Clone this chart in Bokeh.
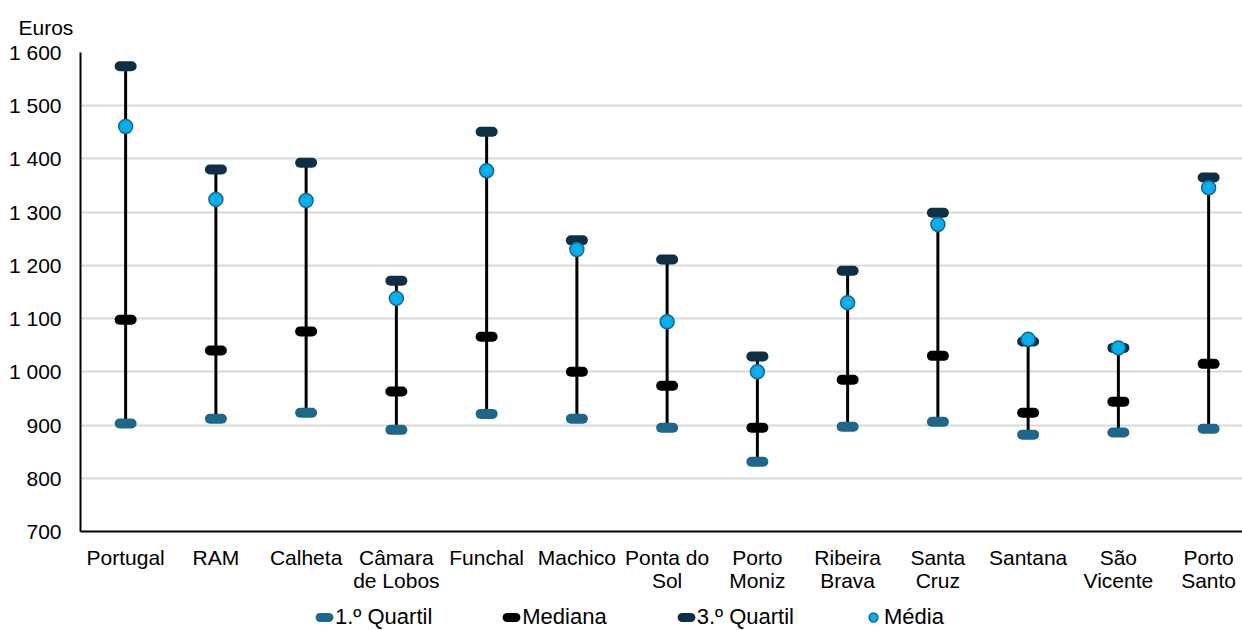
from bokeh.plotting import figure
from bokeh.layouts import column
from bokeh.models import (Range1d, FixedTicker, Legend, LegendItem, Title,
                          ColumnDataSource)
from bokeh.embed import file_html
from bokeh.resources import INLINE

categories = ["Portugal", "RAM", "Calheta", "Câmara\nde Lobos", "Funchal", "Machico",
              "Ponta do\nSol", "Porto\nMoniz", "Ribeira\nBrava", "Santa\nCruz",
              "Santana", "São\nVicente", "Porto\nSanto"]
q1 = [903, 912, 923, 891, 921, 912, 895, 831, 897, 906, 882, 886, 893]
median = [1098, 1040, 1076, 963, 1066, 1000, 974, 895, 985, 1030, 923, 944, 1015]
q3 = [1574, 1380, 1393, 1171, 1451, 1247, 1211, 1029, 1190, 1299, 1057, 1045, 1365]
mean = [1461, 1324, 1322, 1138, 1378, 1230, 1094, 1000, 1130, 1277, 1061, 1045, 1346]
y_ticks = [700, 800, 900, 1000, 1100, 1200, 1300, 1400, 1500, 1600]
y_tick_labels = ["700", "800", "900", "1 000", "1 100", "1 200", "1 300", "1 400", "1 500", "1 600"]
series_names = ["1.º Quartil", "Mediana", "3.º Quartil", "Média"]

FONT = "Liberation Sans"
C_Q1 = "#1D678A"
C_MED = "#000000"
C_Q3 = "#0D3047"
C_MEAN = "#00B0F0"
C_MEAN_LINE = "#1D678A"

W = 1242
H_MAIN, H_LEG = 600, 30
TOP, BOTTOM, LEFT, RIGHT = 52, 69, 80, 0
BAND = 90.25  # px per category, as in the reference
x_end = (W - LEFT - RIGHT) / BAND   # the reference's frame is cropped at the right

xs = [i + 0.5 for i in range(len(categories))]
lo = [min(a, b, c, d) for a, b, c, d in zip(q1, median, q3, mean)]
hi = [max(a, b, c, d) for a, b, c, d in zip(q1, median, q3, mean)]

src = ColumnDataSource(dict(x=xs, q1=q1, median=median, q3=q3, mean=mean, lo=lo, hi=hi))

p = figure(width=W, height=H_MAIN, output_backend="svg", toolbar_location=None,
           x_range=Range1d(0, x_end), y_range=Range1d(700, 1600),
           min_border_left=LEFT, min_border_right=RIGHT, min_border_top=TOP,
           min_border_bottom=BOTTOM)
p.outline_line_color = None
p.background_fill_color = "white"

p.segment(x0="x", x1="x", y0="lo", y1="hi", source=src, line_color="black", line_width=3)
p.scatter("x", "q1", source=src, marker="dash", size=12, line_width=10,
          line_cap="round", line_color=C_Q1)
p.scatter("x", "median", source=src, marker="dash", size=12, line_width=10,
          line_cap="round", line_color=C_MED)
p.scatter("x", "q3", source=src, marker="dash", size=12, line_width=10,
          line_cap="round", line_color=C_Q3)
p.scatter("x", "mean", source=src, marker="circle", size=14, line_width=1.5,
          fill_color=C_MEAN, line_color=C_MEAN_LINE)

# axes
p.xaxis.ticker = FixedTicker(ticks=xs)
p.xaxis.major_label_overrides = {x: c for x, c in zip(xs, categories)}
p.yaxis.ticker = FixedTicker(ticks=y_ticks)
p.yaxis.major_label_overrides = {t: l for t, l in zip(y_ticks, y_tick_labels)}
for ax in (p.xaxis, p.yaxis):
    ax.axis_line_color = "black"
    ax.axis_line_width = 2
    ax.major_tick_line_color = None
    ax.minor_tick_line_color = None
    ax.major_label_text_font = FONT
    ax.major_label_text_font_size = "21px"
    ax.major_label_text_color = "black"
p.xaxis.major_label_text_line_height = 1.0
p.yaxis.major_label_standoff = 13
p.xaxis.major_label_standoff = 8
p.xgrid.grid_line_color = None
p.ygrid.grid_line_color = "#D9D9D9"
p.ygrid.grid_line_width = 2

p.title = Title(text="Euros", align="left", offset=-62, text_font=FONT,
                text_font_size="21px", text_font_style="normal", text_color="black",
                standoff=27)

# legend in its own strip below the chart (frames of the column are aligned)
lg = figure(width=W, height=H_LEG, output_backend="svg", toolbar_location=None,
            x_range=Range1d(0, 1), y_range=Range1d(0, 1), x_axis_type=None,
            y_axis_type=None, min_border=0)
lg.outline_line_color = None
lg.grid.visible = False
off = dict(x=[-10], y=[-10])
l_q1 = lg.scatter(x=off["x"], y=off["y"], marker="dash", size=9, line_width=9,
                  line_cap="round", line_color=C_Q1)
l_med = lg.scatter(x=off["x"], y=off["y"], marker="dash", size=9, line_width=9,
                   line_cap="round", line_color=C_MED)
l_q3 = lg.scatter(x=off["x"], y=off["y"], marker="dash", size=9, line_width=9,
                  line_cap="round", line_color=C_Q3)
l_mean = lg.scatter(x=off["x"], y=off["y"], marker="circle", size=9, line_width=1.5,
                    fill_color=C_MEAN, line_color=C_MEAN_LINE)
legend = Legend(items=[
    LegendItem(label=series_names[0], renderers=[l_q1]),
    LegendItem(label=series_names[1], renderers=[l_med]),
    LegendItem(label=series_names[2], renderers=[l_q3]),
    LegendItem(label=series_names[3], renderers=[l_mean]),
], orientation="horizontal", location=(233, 0), spacing=68, label_standoff=0,
    glyph_width=22, glyph_height=22, label_text_font=FONT, label_text_font_size="22px",
    label_text_color="black", border_line_color=None, background_fill_alpha=0,
    padding=0, margin=0)
lg.add_layout(legend, "center")

layout = column(p, lg, spacing=0)
open("out.html", "w").write(file_html(layout, INLINE))
